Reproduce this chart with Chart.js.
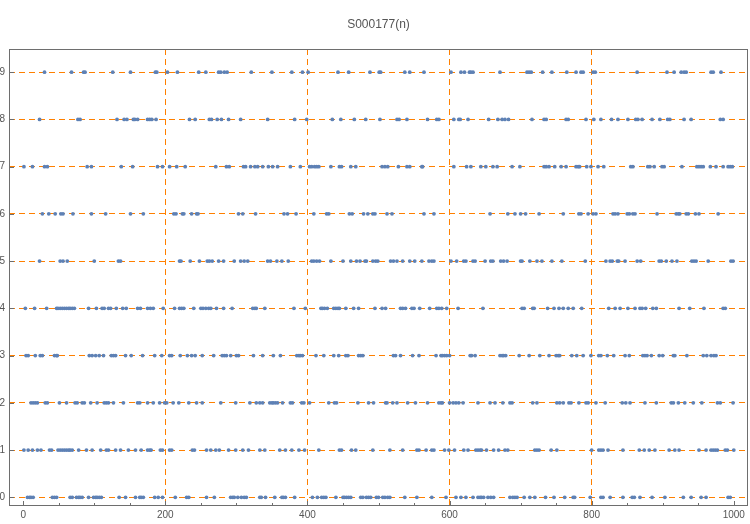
<!DOCTYPE html>
<html>
<head>
<meta charset="utf-8">
<title>S000177(n)</title>
<script src="https://cdn.jsdelivr.net/npm/chart.js@4.4.1/dist/chart.umd.min.js"></script>
<style>
  html, body { margin: 0; padding: 0; background: #fff; }
  canvas { display: block; }
</style>
</head>
<body>
<canvas id="chart" width="750" height="524"></canvas>
<script>
// --- DATA: n values where S000177(n) = digit ---
const digits = [0, 1, 2, 3, 4, 5, 6, 7, 8, 9];

const row0 = [6, 9, 11, 14, 41, 44, 47, 66, 69, 75, 78, 80, 83, 92, 99, 102, 104, 107, 110, 135, 144, 158, 164, 166, 169, 185, 190, 196, 214, 230, 233, 258, 269, 292, 295, 297, 302, 307, 311, 314, 333, 335, 341, 354, 364, 366, 369, 382, 407, 414, 420, 423, 426, 440, 450, 452, 455, 458, 461, 475, 478, 483, 486, 489, 497, 500, 506, 509, 513, 516, 537, 554, 575, 595, 609, 616, 623, 633, 640, 643, 645, 648, 654, 658, 662, 685, 689, 692, 695, 705, 713, 720, 735, 747, 762, 774, 776, 798, 813, 816, 826, 844, 857, 860, 868, 885, 903, 929, 940, 954, 961, 992, 995];
const row1 = [1, 7, 13, 20, 25, 37, 40, 49, 52, 55, 58, 61, 64, 66, 69, 78, 89, 97, 109, 117, 120, 130, 137, 148, 158, 166, 175, 178, 180, 193, 196, 206, 209, 238, 241, 258, 264, 271, 276, 289, 299, 309, 317, 333, 340, 361, 369, 378, 388, 396, 416, 445, 448, 462, 468, 492, 516, 534, 554, 557, 567, 575, 578, 593, 599, 607, 620, 626, 637, 640, 643, 645, 652, 662, 669, 678, 682, 720, 723, 726, 743, 751, 800, 810, 813, 816, 823, 844, 867, 874, 881, 889, 909, 917, 923, 951, 961, 968, 971, 974, 977, 988, 991, 1000];
const row2 = [11, 14, 17, 20, 31, 34, 51, 61, 73, 76, 83, 86, 95, 104, 114, 117, 120, 127, 141, 161, 164, 175, 183, 192, 199, 202, 211, 219, 233, 244, 252, 278, 299, 319, 328, 333, 337, 347, 350, 352, 355, 358, 365, 376, 379, 392, 395, 403, 430, 438, 441, 471, 486, 493, 510, 512, 520, 526, 541, 552, 569, 585, 588, 590, 600, 605, 609, 613, 619, 640, 657, 664, 675, 685, 688, 717, 723, 751, 755, 760, 768, 771, 782, 792, 795, 806, 819, 843, 848, 854, 875, 891, 912, 915, 922, 931, 943, 955, 977, 981, 999];
const row3 = [4, 7, 17, 24, 27, 44, 47, 48, 93, 97, 102, 107, 113, 124, 127, 130, 144, 152, 168, 185, 195, 206, 209, 221, 231, 237, 242, 252, 268, 280, 283, 286, 292, 300, 303, 324, 337, 352, 362, 385, 388, 390, 393, 412, 423, 437, 444, 454, 457, 472, 475, 478, 521, 524, 531, 548, 557, 581, 588, 590, 593, 596, 600, 629, 631, 636, 671, 674, 676, 679, 698, 712, 727, 740, 750, 753, 755, 772, 779, 788, 799, 810, 813, 822, 831, 847, 853, 872, 875, 878, 884, 895, 900, 915, 917, 934, 957, 962, 968, 972, 975];
const row4 = [3, 16, 33, 47, 49, 52, 55, 58, 61, 64, 66, 69, 72, 92, 103, 111, 114, 120, 123, 131, 140, 145, 161, 165, 175, 179, 183, 197, 213, 220, 223, 226, 240, 250, 253, 257, 261, 264, 272, 282, 294, 323, 326, 328, 340, 381, 397, 419, 421, 424, 428, 437, 440, 443, 445, 454, 465, 472, 495, 505, 510, 531, 534, 538, 547, 550, 558, 572, 582, 585, 589, 596, 612, 647, 702, 705, 717, 719, 738, 747, 754, 760, 767, 774, 786, 824, 833, 840, 851, 861, 868, 871, 876, 886, 891, 923, 938, 958, 985, 988];
const row5 = [23, 52, 56, 62, 100, 134, 137, 220, 222, 235, 248, 259, 262, 266, 275, 282, 297, 306, 311, 316, 344, 348, 357, 364, 373, 406, 409, 413, 417, 433, 450, 461, 469, 474, 481, 483, 492, 496, 499, 517, 521, 526, 534, 544, 551, 561, 571, 575, 578, 602, 610, 620, 623, 633, 636, 650, 658, 661, 672, 676, 681, 700, 702, 713, 723, 730, 744, 758, 791, 820, 826, 829, 836, 838, 847, 864, 869, 895, 898, 905, 913, 920, 941, 944, 947, 964, 996, 999];
const row6 = [27, 36, 45, 53, 56, 70, 96, 116, 151, 169, 212, 215, 224, 226, 237, 244, 246, 303, 309, 327, 367, 372, 384, 409, 427, 430, 459, 463, 479, 485, 492, 495, 512, 519, 564, 578, 657, 682, 692, 700, 707, 726, 760, 782, 785, 795, 802, 806, 830, 833, 837, 850, 853, 858, 861, 892, 919, 922, 924, 933, 936, 946, 951, 978];
const row7 = [1, 13, 30, 34, 90, 96, 138, 154, 189, 196, 206, 216, 228, 271, 286, 290, 310, 313, 320, 326, 330, 337, 345, 351, 358, 376, 390, 403, 406, 410, 413, 416, 433, 445, 448, 461, 468, 505, 509, 513, 528, 540, 544, 561, 562, 606, 624, 630, 644, 651, 661, 667, 688, 699, 733, 736, 740, 748, 757, 764, 778, 781, 783, 793, 799, 809, 817, 855, 858, 879, 882, 888, 899, 902, 927, 948, 951, 954, 957, 967, 975, 985, 992, 995, 998];
const row8 = [23, 77, 80, 132, 142, 146, 155, 157, 161, 175, 178, 181, 187, 234, 242, 262, 265, 273, 279, 289, 306, 344, 382, 399, 435, 447, 466, 482, 502, 526, 529, 540, 569, 582, 585, 606, 613, 615, 626, 655, 668, 674, 678, 683, 716, 733, 736, 764, 767, 792, 803, 813, 828, 837, 851, 862, 865, 871, 885, 896, 907, 910, 930, 940, 981, 985];
const row9 = [30, 68, 85, 87, 126, 151, 186, 188, 203, 217, 247, 257, 275, 278, 283, 287, 321, 350, 378, 393, 401, 443, 458, 488, 501, 503, 537, 544, 564, 602, 616, 621, 628, 630, 633, 671, 709, 712, 715, 731, 744, 765, 778, 785, 788, 802, 805, 864, 906, 916, 926, 930, 933, 968, 971, 982];

const rows = [row0, row1, row2, row3, row4, row5, row6, row7, row8, row9];

const xTickValues = [];
for (let v = 0; v <= 1000; v += 50) xTickValues.push(v);

// --- STYLE ---
const ORANGE = '#ff8000';
const FRAME = '#6e6e6e';
const LABEL = '#555555';
const POINT = '#5e81b5';

const points = [];
rows.forEach((xs, d) => xs.forEach(n => points.push({ x: n, y: digits[d] })));

// frame + inward ticks, Mathematica style
const framePlugin = {
  id: 'frame',
  afterDatasetsDraw(chart) {
    const { ctx, chartArea: a, scales } = chart;
    ctx.save();
    ctx.strokeStyle = FRAME;
    ctx.lineWidth = 1;
    ctx.strokeRect(a.left + 0.5, a.top + 0.5, a.right - a.left - 1, a.bottom - a.top - 1);
    ctx.beginPath();
    xTickValues.forEach(v => {
      const px = Math.round(scales.x.getPixelForValue(v)) + 0.5;
      const len = v % 200 === 0 ? 4.5 : 2.5;
      ctx.moveTo(px, a.bottom - 0.5);
      ctx.lineTo(px, a.bottom - 0.5 - len);
    });
    digits.forEach(v => {
      const py = Math.round(scales.y.getPixelForValue(v)) + 0.5;
      ctx.moveTo(a.left + 0.5, py);
      ctx.lineTo(a.left + 0.5 + 4.5, py);
    });
    ctx.stroke();
    ctx.restore();
  }
};

new Chart(document.getElementById('chart'), {
  type: 'scatter',
  data: {
    datasets: [{
      label: 'S000177(n)',
      data: points,
      backgroundColor: POINT,
      borderWidth: 0,
      pointRadius: 1.9,
      pointHoverRadius: 1.9
    }]
  },
  options: {
    responsive: false,
    animation: false,
    layout: { padding: { left: 0, right: 2, top: 0, bottom: 0 } },
    plugins: {
      legend: { display: false },
      tooltip: { enabled: false },
      title: {
        display: true,
        text: 'S000177(n)',
        color: LABEL,
        fullSize: false,
        font: { family: '"Liberation Sans", Arial, sans-serif', size: 12, weight: 'normal', lineHeight: 1.2 },
        padding: { top: 17, bottom: 17.6 }
      }
    },
    scales: {
      x: {
        type: 'linear',
        min: -20,
        max: 1020,
        afterBuildTicks: scale => { scale.ticks = xTickValues.map(v => ({ value: v })); },
        afterFit: scale => { scale.height = 18; },
        grid: {
          drawTicks: false,
          lineWidth: 1,
          color: c => (c.tick && c.tick.value % 200 === 0 && c.tick.value > 0 && c.tick.value < 1000) ? ORANGE : 'rgba(0,0,0,0)'
        },
        border: { display: false, dash: [6, 4] },
        ticks: {
          autoSkip: false,
          maxRotation: 0,
          padding: 3,
          color: LABEL,
          font: { family: '"Liberation Sans", Arial, sans-serif', size: 10 },
          callback: v => (v % 200 === 0 ? String(v) : '')
        }
      },
      y: {
        type: 'linear',
        min: -0.184,
        max: 9.49,
        afterBuildTicks: scale => { scale.ticks = digits.map(v => ({ value: v })); },
        afterFit: scale => { scale.width = 9; },
        grid: { drawTicks: false, lineWidth: 1, color: ORANGE },
        border: { display: false, dash: [6, 4] },
        ticks: {
          padding: 4,
          color: LABEL,
          font: { family: '"Liberation Sans", Arial, sans-serif', size: 10 },
          callback: v => String(v)
        }
      }
    }
  },
  plugins: [framePlugin]
});
</script>
</body>
</html>
